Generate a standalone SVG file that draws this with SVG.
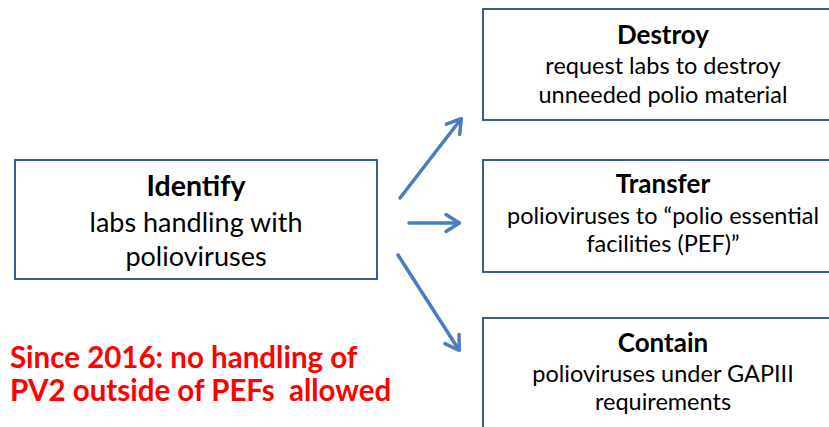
<svg xmlns="http://www.w3.org/2000/svg" width="829" height="427" viewBox="0 0 829 427">
<defs>
<style>
.box{fill:#fff;stroke:#385D8A;stroke-width:2}
.t{font-family:Lato,"Liberation Sans",sans-serif;fill:#000;text-anchor:middle}
.h{font-weight:bold;font-size:26px}
.hi{font-weight:bold;font-size:28.5px}
.s{font-size:23.5px}
.big{font-size:27px}
.red{font-family:Lato,"Liberation Sans",sans-serif;fill:#FF0000;font-weight:bold;font-size:29.5px;white-space:pre}
.arr{stroke:#4A7EBB;stroke-width:3.5;fill:none;stroke-linecap:round}
</style>
<marker id="ah" markerWidth="6" markerHeight="6" refX="4.5" refY="3" orient="auto" markerUnits="strokeWidth" viewBox="0 0 6 6">
<path d="M0.8,0.6 L4.6,3 L0.8,5.4" fill="none" stroke="#4A7EBB" stroke-width="1" stroke-linecap="round" stroke-linejoin="round"/>
</marker>
</defs>
<rect width="829" height="427" fill="#fff"/>
<g id="identify">
<rect class="box" x="15" y="160" width="362" height="119"/>
<text class="t hi" x="196" y="196">Identify</text>
<text class="t big" x="196" y="232">labs handling with</text>
<text class="t big" x="196" y="266">polioviruses</text>
</g>
<g id="destroy">
<rect class="box" x="483" y="9" width="360" height="111"/>
<text class="t h" x="663" y="44">Destroy</text>
<text class="t s" x="663" y="74">request labs to destroy</text>
<text class="t s" x="663" y="103">unneeded polio material</text>
</g>
<g id="transfer">
<rect class="box" x="483" y="160" width="360" height="112"/>
<text class="t h" x="663" y="193">Transfer</text>
<text class="t s" x="663" y="224">polioviruses to “polio essential</text>
<text class="t s" x="663" y="252">facilities (PEF)”</text>
</g>
<g id="contain">
<rect class="box" x="483" y="318" width="360" height="120"/>
<text class="t h" x="663" y="352">Contain</text>
<text class="t s" x="663" y="382">polioviruses under GAPIII</text>
<text class="t s" x="663" y="410">requirements</text>
</g>
<g id="note">
<text class="red" x="10" y="368">Since 2016: no handling of</text>
<text class="red" x="10" y="401">PV2 outside of PEFs&#160; allowed</text>
</g>
<g id="connectors">
<line class="arr" x1="400" y1="198" x2="461" y2="119" marker-end="url(#ah)"/>
<line class="arr" x1="409" y1="223" x2="459" y2="223" marker-end="url(#ah)"/>
<line class="arr" x1="398" y1="255" x2="459" y2="350" marker-end="url(#ah)"/>
</g>
</svg>
